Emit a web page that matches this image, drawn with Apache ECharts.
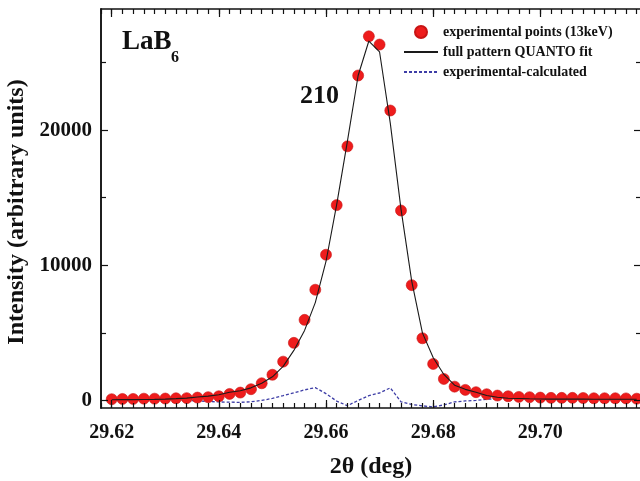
<!DOCTYPE html>
<html><head><meta charset="utf-8">
<script src="https://cdn.jsdelivr.net/npm/echarts@6/dist/echarts.min.js"></script>
<style>html,body{margin:0;padding:0;background:#fff}#c{width:640px;height:481px}</style>
</head><body><div id="c"></div>
<script>
const twoTheta = [29.620,29.622,29.624,29.626,29.628,29.630,29.632,29.634,29.636,29.638,
  29.640,29.642,29.644,29.646,29.648,29.650,29.652,29.654,29.656,29.658,
  29.660,29.662,29.664,29.666,29.668,29.670,29.672,29.674,29.676,29.678,
  29.680,29.682,29.684,29.686,29.688,29.690,29.692,29.694,29.696,29.698,
  29.700,29.702,29.704,29.706,29.708,29.710,29.712,29.714,29.716,29.718];
const experimental = [90,110,110,130,130,140,160,170,210,240,
  310,480,580,830,1270,1900,2870,4260,5960,8190,
  10780,14450,18800,24040,26940,26330,21450,14050,8530,4600,
  2700,1590,1020,780,610,460,360,310,260,240,
  210,190,190,190,180,160,160,160,150,130];
const fitQuanto = [50,60,60,70,80,100,130,170,250,320,
  420,610,720,930,1270,1750,2520,3700,5180,7240,
  10280,14500,19190,24040,26590,25780,20520,14150,8830,5000,
  3180,1920,1130,820,610,370,230,160,140,120,
  110,100,100,95,95,90,90,90,90,85];
const difference = [40,50,50,60,50,40,30,0,-40,-80,
  -110,-130,-140,-100,0,150,350,560,780,950,
  500,-50,-390,0,350,550,930,-100,-300,-400,
  -480,-330,-110,-40,0,90,130,150,120,120,
  100,90,90,95,85,70,70,70,60,45];
const xTickLabels = [29.62,29.64,29.66,29.68,29.70];
const yTickLabels = [0,10000,20000];
const yMinorTicks = [5000,15000,25000];
const legendNames = ['experimental points (13keV)','full pattern QUANTO fit','experimental-calculated'];

const FONT = 'Liberation Serif, Times New Roman, serif';
const AX = '#111';
const XMIN = 29.618, XMAX = 29.7188, XMINOR = 0.002, YMIN = -560, YMAX = 28960;

function xMajor(pos, opts) {
  return Object.assign({
    type:'value', position:pos, min:XMIN, max:XMAX, z:10,
    axisLine:{show:true, onZero:false, lineStyle:{color:AX, width:1.5}},
    axisTick:{show:true, inside:true, length:8, customValues:xTickLabels, lineStyle:{color:AX, width:1.2}},
    axisLabel:{show:true, customValues:xTickLabels, formatter:()=>''},
    splitLine:{show:false}
  }, opts||{});
}
function xMinor(pos) {
  return {
    type:'value', position:pos, min:XMIN, max:XMAX, interval:XMINOR, z:10,
    axisLine:{show:false, onZero:false},
    axisTick:{show:true, inside:true, length:5, lineStyle:{color:AX, width:1.2}},
    axisLabel:{show:false}, splitLine:{show:false}
  };
}
function yAx(pos, ticks, len, opts) {
  return Object.assign({
    type:'value', position:pos, min:YMIN, max:YMAX, z:10,
    axisLine:{show:true, onZero:false, lineStyle:{color:AX, width:1.5}},
    axisTick:{show:true, inside:true, length:len, customValues:ticks, lineStyle:{color:AX, width:1.2}},
    axisLabel:{show:false}, splitLine:{show:false}
  }, opts||{});
}
const hidden = {color:'rgba(0,0,0,0)', borderColor:'rgba(0,0,0,0)', borderWidth:0};

const chart = echarts.init(document.getElementById('c'), null, {renderer:'canvas'});
chart.setOption({
  animation:false,
  backgroundColor:'#fff',
  grid:{left:101, top:9, width:540, bottom:73, containLabel:false, outerBoundsMode:'none'},
  legend:{
    orient:'vertical', left:403, top:25, padding:0, itemWidth:34, itemHeight:12, itemGap:6,
    data:[{name:legendNames[0], icon:'circle'},
          {name:legendNames[1], itemStyle:hidden},
          {name:legendNames[2], itemStyle:hidden}],
    textStyle:{fontFamily:FONT, fontWeight:'bold', fontSize:14, color:'#111'}
  },
  xAxis:[
    xMajor('bottom', {
      name:'2\u03B8 (deg)', nameLocation:'middle', nameGap:47,
      nameTextStyle:{fontFamily:FONT, fontWeight:'bold', fontSize:24, color:'#111'},
      axisLabel:{show:true, customValues:xTickLabels, margin:15,
        formatter:v=>v.toFixed(2), fontFamily:FONT, fontWeight:'bold', fontSize:20, color:'#111'}
    }),
    xMinor('bottom'),
    xMajor('top'),
    xMinor('top')
  ],
  yAxis:[
    yAx('left', yTickLabels, 7, {
      name:'Intensity (arbitrary units)', nameLocation:'middle', nameGap:68,
      nameTextStyle:{fontFamily:FONT, fontWeight:'bold', fontSize:24, color:'#111', padding:[0,7,0,0]},
      axisLabel:{show:true, customValues:yTickLabels, margin:9, formatter:v=>String(v),
        fontFamily:FONT, fontWeight:'bold', fontSize:21, color:'#111'}
    }),
    yAx('left', yMinorTicks, 5),
    yAx('right', yTickLabels, 7),
    yAx('right', yMinorTicks, 5)
  ],
  series:[
    {name:legendNames[0], type:'scatter', xAxisIndex:0, yAxisIndex:0, z:3,
     symbol:'circle', symbolSize:11,
     itemStyle:{color:'#ee1c1c', borderColor:'#c81414', borderWidth:0.6, opacity:1},
     data:twoTheta.map((x,i)=>[x, experimental[i]])},
    {name:legendNames[1], type:'line', xAxisIndex:0, yAxisIndex:0, z:4,
     symbol:'none', showSymbol:false, smooth:false,
     lineStyle:{color:'#1a1a1a', width:1.1},
     itemStyle:{color:'#1a1a1a'},
     data:twoTheta.map((x,i)=>[x, fitQuanto[i]])},
    {name:legendNames[2], type:'line', xAxisIndex:0, yAxisIndex:0, z:2,
     symbol:'none', showSymbol:false, smooth:false,
     lineStyle:{color:'#3d3da6', width:1.3, type:[3,2]},
     itemStyle:{color:'#3d3da6'},
     data:twoTheta.map((x,i)=>[x, difference[i]])}
  ],
  graphic:[
    {type:'text', left:122, top:29, style:{text:'LaB', fontFamily:FONT, fontWeight:'bold', fontSize:27, fill:'#111'}},
    {type:'text', left:171, top:50, style:{text:'6', fontFamily:FONT, fontWeight:'bold', fontSize:16, fill:'#111'}},
    {type:'text', left:300, top:83, style:{text:'210', fontFamily:FONT, fontWeight:'bold', fontSize:26, fill:'#111'}}
  ]
});
</script></body></html>
